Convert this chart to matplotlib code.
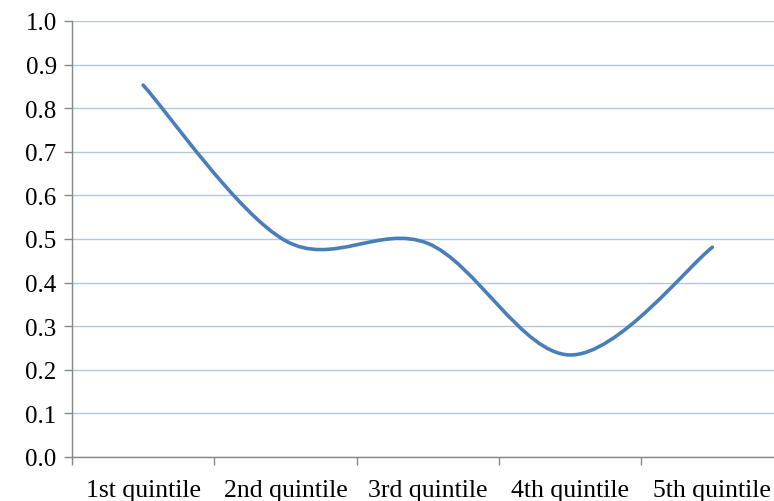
import matplotlib
matplotlib.use("Agg")
import matplotlib.pyplot as plt
from matplotlib.path import Path
from matplotlib.patches import PathPatch
import numpy as np

categories = ["1st quintile", "2nd quintile", "3rd quintile", "4th quintile", "5th quintile"]
values = [0.853, 0.496, 0.49, 0.234, 0.481]
y_ticks = [0.0, 0.1, 0.2, 0.3, 0.4, 0.5, 0.6, 0.7, 0.8, 0.9, 1.0]

plt.rcParams['font.family'] = ['Liberation Serif', 'DejaVu Serif']

fig = plt.figure(figsize=(7.74, 5.02), dpi=100)
W, H = 774, 502
left, right, top, bottom = 72, 783.5, 22, 458
ax = fig.add_axes([left / W, 1 - bottom / H, (right - left) / W, (bottom - top) / H])

line_color = "#4A7EBB"
grid_color = "#B3C6E5"
axis_color = "#878787"

# Excel-like smoothed line: cubic Bezier through the points (Catmull-Rom style)
x = np.arange(len(values), dtype=float)
y = np.array(values, dtype=float)
verts = [(x[0], y[0])]
codes = [Path.MOVETO]
n = len(x)
for i in range(n - 1):
    p0 = (x[i - 1], y[i - 1]) if i > 0 else (x[i], y[i])
    p1 = (x[i], y[i])
    p2 = (x[i + 1], y[i + 1])
    p3 = (x[i + 2], y[i + 2]) if i + 2 < n else (x[i + 1], y[i + 1])
    c1 = (p1[0] + (p2[0] - p0[0]) / 6, p1[1] + (p2[1] - p0[1]) / 6)
    c2 = (p2[0] - (p3[0] - p1[0]) / 6, p2[1] - (p3[1] - p1[1]) / 6)
    verts += [c1, c2, p2]
    codes += [Path.CURVE4] * 3
path = Path(verts, codes)
ax.add_patch(PathPatch(path, facecolor="none", edgecolor=line_color, linewidth=2.6,
                       capstyle="round", joinstyle="round", zorder=3))

ax.set_xlim(-0.5, len(categories) - 0.5)
ax.set_ylim(0, 1.0)
ax.set_yticks(y_ticks)
ax.set_yticklabels([f"{t:.1f}" for t in y_ticks])
ax.yaxis.grid(True, color=grid_color, linewidth=1.0)
ax.set_axisbelow(True)

ax.set_xticks(x)
ax.set_xticklabels(categories)
ax.set_xticks(np.arange(-0.5, len(categories), 1.0), minor=True)
ax.tick_params(axis="x", which="major", length=0, pad=15.5, labelsize=18.5, colors="black")
ax.tick_params(axis="x", which="minor", length=6, width=1, color=axis_color, direction="out")
ax.tick_params(axis="y", which="major", length=6, width=1, color=axis_color, pad=5,
               labelsize=18, direction="out")

for s in ["top", "right"]:
    ax.spines[s].set_visible(False)
for s in ["left", "bottom"]:
    ax.spines[s].set_color(axis_color)
    ax.spines[s].set_linewidth(1)

fig.savefig("out.png", dpi=100)
